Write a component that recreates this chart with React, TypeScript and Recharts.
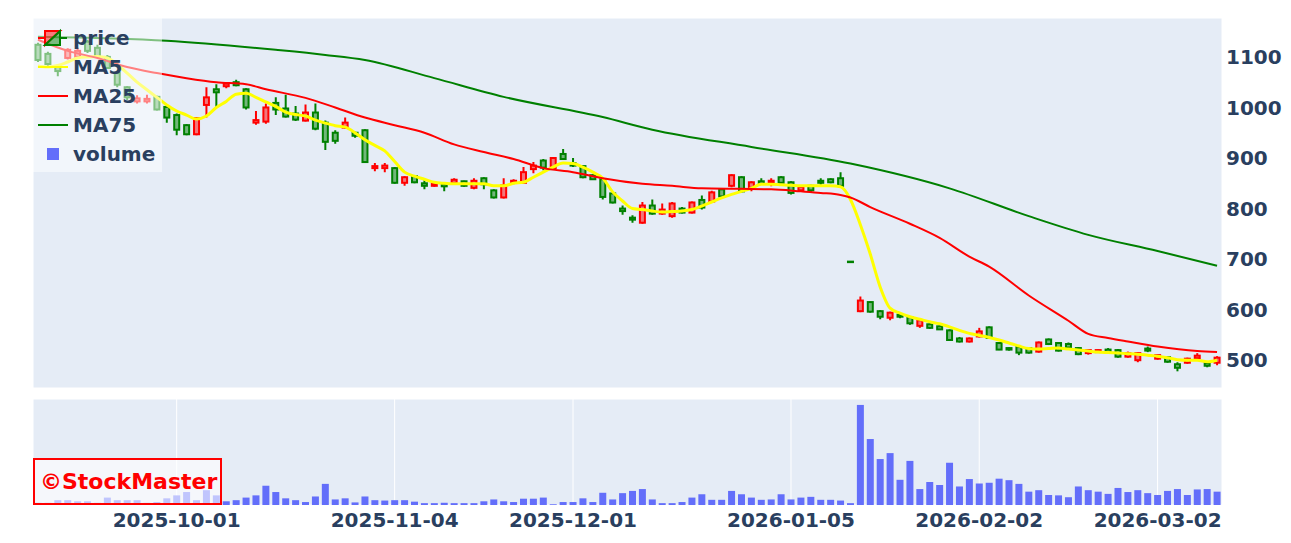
import React from 'react'
import { ComposedChart, Bar, Line, XAxis, YAxis, CartesianGrid } from 'recharts'

// Japanese trading days shown on the chart
const dates = [
  '2025-09-09', '2025-09-10', '2025-09-11', '2025-09-12', '2025-09-16', '2025-09-17', '2025-09-18', '2025-09-19', '2025-09-22', '2025-09-24',
  '2025-09-25', '2025-09-26', '2025-09-29', '2025-09-30',
  '2025-10-01', '2025-10-02', '2025-10-03', '2025-10-06', '2025-10-07', '2025-10-08', '2025-10-09', '2025-10-10', '2025-10-14', '2025-10-15',
  '2025-10-16', '2025-10-17', '2025-10-20', '2025-10-21', '2025-10-22', '2025-10-23', '2025-10-24', '2025-10-27', '2025-10-28', '2025-10-29',
  '2025-10-30', '2025-10-31',
  '2025-11-04', '2025-11-05', '2025-11-06', '2025-11-07', '2025-11-10', '2025-11-11', '2025-11-12', '2025-11-13', '2025-11-14', '2025-11-17',
  '2025-11-18', '2025-11-19', '2025-11-20', '2025-11-21', '2025-11-25', '2025-11-26', '2025-11-27', '2025-11-28',
  '2025-12-01', '2025-12-02', '2025-12-03', '2025-12-04', '2025-12-05', '2025-12-08', '2025-12-09', '2025-12-10', '2025-12-11', '2025-12-12',
  '2025-12-15', '2025-12-16', '2025-12-17', '2025-12-18', '2025-12-19', '2025-12-22', '2025-12-23', '2025-12-24', '2025-12-25', '2025-12-26',
  '2025-12-29', '2025-12-30',
  '2026-01-05', '2026-01-06', '2026-01-07', '2026-01-08', '2026-01-09', '2026-01-13', '2026-01-14', '2026-01-15', '2026-01-16', '2026-01-19',
  '2026-01-20', '2026-01-21', '2026-01-22', '2026-01-23', '2026-01-26', '2026-01-27', '2026-01-28', '2026-01-29', '2026-01-30',
  '2026-02-02', '2026-02-03', '2026-02-04', '2026-02-05', '2026-02-06', '2026-02-09', '2026-02-10', '2026-02-12', '2026-02-13', '2026-02-16',
  '2026-02-17', '2026-02-18', '2026-02-19', '2026-02-20', '2026-02-24', '2026-02-25', '2026-02-26', '2026-02-27',
  '2026-03-02', '2026-03-03', '2026-03-04', '2026-03-05', '2026-03-06', '2026-03-09', '2026-03-10',
]

const tickDates = ['2025-10-01', '2025-11-04', '2025-12-01', '2026-01-05', '2026-02-02', '2026-03-02']
const priceTicks = [500, 600, 700, 800, 900, 1000, 1100]

const open = [
  1124, 1106, 1082, 1098, 1100, 1130, 1118, 1100, 1068, 1040,
  1012, 1012, 1021, 1001, 985, 965, 947, 1005, 1036, 1042,
  1050, 1036, 970, 972, 1009, 998, 988, 974, 990, 970,
  950, 960, 950, 955, 880, 880, 880, 851, 864, 850,
  845, 849, 851, 854, 841, 860, 836, 822, 851, 851,
  878, 895, 880, 908, 890, 884, 866, 858, 830, 800,
  782, 772, 806, 790, 785, 800, 792, 817, 814, 838,
  845, 862, 841, 854, 851, 862, 852, 836, 845, 855,
  858, 860, 695, 597, 615, 597, 584, 590, 585, 568,
  571, 567, 559, 543, 537, 547, 565, 534, 524, 526,
  524, 517, 541, 534, 532, 524, 514, 516, 521, 520,
  507, 500, 523, 503, 506, 492, 495, 504, 494, 495,
]
const high = [
  1128, 1110, 1085, 1117, 1118, 1134, 1124, 1104, 1070, 1042,
  1024, 1025, 1023, 1003, 988, 967, 981, 1040, 1046, 1050,
  1055, 1038, 993, 1008, 1020, 1025, 1003, 1006, 1008, 974,
  955, 980, 952, 957, 890, 890, 882, 864, 866, 856,
  852, 850, 860, 855, 860, 862, 838, 860, 858, 882,
  892, 898, 902, 918, 900, 886, 868, 860, 832, 806,
  787, 813, 818, 810, 813, 803, 814, 826, 835, 840,
  868, 864, 854, 860, 860, 864, 854, 845, 847, 860,
  860, 872, 696, 626, 616, 599, 596, 594, 587, 581,
  573, 569, 561, 546, 545, 564, 567, 535, 525, 528,
  526, 537, 543, 536, 535, 526, 522, 521, 524, 522,
  517, 516, 527, 511, 507, 496, 505, 514, 496, 508,
]
const low = [
  1090, 1082, 1062, 1095, 1096, 1108, 1098, 1076, 1040, 1015,
  1008, 1008, 994, 970, 945, 945, 945, 980, 1000, 1038,
  1042, 996, 966, 968, 985, 980, 973, 972, 955, 916,
  928, 958, 940, 890, 874, 872, 849, 845, 850, 838,
  843, 834, 850, 843, 838, 838, 820, 820, 848, 850,
  870, 876, 878, 896, 882, 860, 857, 818, 810, 788,
  772, 770, 788, 788, 782, 790, 790, 798, 812, 820,
  842, 832, 834, 847, 844, 850, 828, 834, 832, 847,
  850, 843, 694, 595, 594, 581, 579, 583, 570, 564,
  562, 560, 538, 535, 535, 545, 542, 520, 519, 510,
  513, 515, 530, 517, 523, 510, 511, 515, 513, 505,
  505, 496, 516, 501, 495, 478, 493, 503, 486, 490,
]
const close = [
  1094, 1086, 1072, 1114, 1112, 1112, 1100, 1078, 1045, 1020,
  1018, 1017, 996, 980, 956, 947, 979, 1020, 1030, 1047,
  1044, 1000, 975, 1000, 996, 982, 976, 990, 958, 932,
  934, 970, 944, 892, 884, 885, 851, 862, 852, 845,
  849, 844, 857, 845, 855, 848, 822, 846, 855, 872,
  885, 881, 900, 898, 885, 862, 858, 823, 812, 795,
  778, 806, 790, 798, 810, 792, 812, 802, 832, 824,
  866, 834, 852, 849, 855, 851, 831, 843, 836, 851,
  852, 845, 695, 618, 596, 586, 594, 586, 573, 579,
  564, 561, 540, 537, 543, 557, 544, 521, 521, 515,
  515, 535, 532, 519, 525, 512, 520, 520, 515, 507,
  514, 514, 519, 510, 497, 485, 503, 509, 489, 505,
]

const ma5 = [
  1082, 1080, 1083, 1090, 1098, 1100, 1101, 1098, 1085, 1068,
  1050, 1035, 1020, 1005, 993, 985, 977, 983, 1000, 1012,
  1026, 1028, 1020, 1011, 1002, 991, 986, 983, 975, 969,
  964, 961, 950, 936, 925, 914, 893, 872, 864, 858,
  852, 850, 849, 849, 849, 849, 845, 845, 850, 852,
  862, 872, 882, 890, 889, 882, 872, 860, 833, 815,
  800, 798, 795, 793, 794, 795, 798, 805, 813, 821,
  828, 834, 840, 848, 848, 847, 846, 845, 845, 845,
  845, 843, 818, 768, 710, 645, 603, 593, 586, 581,
  576, 572, 566, 559, 553, 549, 545, 540, 534, 528,
  523, 522, 523, 524, 522, 520, 518, 516, 515, 514,
  513, 512, 510, 508, 505, 501, 500, 500, 497, 500,
]

// [day index, value]
const ma25Points: [number, number][] = [
  [0, 1134], [3, 1112], [6, 1098], [9, 1080], [12, 1068], [15, 1058], [18, 1050], [21, 1046], [23, 1036],
  [27, 1019], [30, 1000], [33, 980], [36, 965], [39, 950], [42, 927], [45, 912], [48, 898], [51, 880],
  [54, 872], [57, 860], [61, 849], [64, 845], [67, 840], [71, 839], [74, 838], [77, 834], [79, 831],
  [81, 827], [82, 822], [84, 803], [88, 770], [91, 742], [94, 705], [96, 685], [100, 628], [104, 578],
  [106, 552], [108, 544], [110, 537], [113, 527], [117, 518], [119, 516],
]
const ma75Points: [number, number][] = [
  [0, 1140], [13, 1132], [24, 1114], [29, 1104], [33, 1094], [40, 1058], [47, 1021], [57, 981], [62, 956],
  [72, 922], [82, 889], [92, 840], [100, 785], [106, 748], [113, 716], [119, 687],
]

// volume in thousands of shares
const volume = [
  60, 60, 130, 130, 100, 100, 60, 200, 130, 130,
  130, 60, 80, 180, 260, 350, 130, 400, 260, 100,
  130, 200, 260, 520, 350, 180, 130, 80, 230, 570,
  150, 180, 70, 230, 130, 120, 130, 130, 90, 50,
  50, 60, 50, 50, 50, 100, 150, 100, 80, 170,
  170, 200, 20, 80, 80, 180, 80, 330, 150, 320,
  380, 430, 150, 50, 50, 80, 200, 290, 140, 140,
  380, 290, 200, 140, 150, 290, 150, 200, 220, 140,
  140, 120, 50, 2700, 1780, 1240, 1400, 680, 1190, 430,
  620, 540, 1140, 500, 700, 580, 600, 710, 670, 570,
  360, 400, 270, 260, 210, 500, 400, 360, 300, 460,
  350, 400, 320, 270, 380, 430, 270, 420, 430, 360,
]

const UP = '#FF0000'
const DOWN = '#008000'
const VOL = '#636EFA'
const TEXT = '#2a3f5f'
const FONT = '"DejaVu Sans", Verdana, sans-serif'

const ma25Map = new Map(ma25Points)
const ma75Map = new Map(ma75Points)

const data = dates.map((date, i) => ({
  date,
  open: open[i],
  high: high[i],
  low: low[i],
  close: close[i],
  range: [low[i], high[i]],
  ma5: ma5[i],
  ma25: ma25Map.get(i) ?? null,
  ma75: ma75Map.get(i) ?? null,
  volume: volume[i],
}))

const Candle = (props: any) => {
  const { x, y, width, height, payload } = props
  if (!payload) return null
  const { open: o, close: c, high: h, low: l } = payload
  const color = c > o ? UP : DOWN
  const top = Math.min(y, y + height)
  const span = Math.abs(height)
  const k = h - l > 0 ? span / (h - l) : 0
  const py = (v: number) => top + (h - v) * k
  const cx = x + width / 2
  const bTop = py(Math.max(o, c))
  const bBot = py(Math.min(o, c))
  const bw = 5
  return (
    <g>
      <line x1={cx} x2={cx} y1={top} y2={bTop} stroke={color} strokeWidth={2} />
      <line x1={cx} x2={cx} y1={bBot} y2={top + span} stroke={color} strokeWidth={2} />
      <rect
        x={cx - bw / 2}
        y={bTop}
        width={bw}
        height={Math.max(bBot - bTop, 0.5)}
        fill={color}
        fillOpacity={0.5}
        stroke={color}
        strokeWidth={2}
      />
    </g>
  )
}

const tickStyle = { fontSize: 20, fontWeight: 'bold', fill: TEXT, fontFamily: FONT }

function LegendBox() {
  const rowY = [38, 67, 96, 125, 154]
  const lines = [
    { label: 'MA5', color: '#FFFF00' },
    { label: 'MA25', color: UP },
    { label: 'MA75', color: DOWN },
  ]
  return (
    <div
      style={{
        position: 'absolute',
        left: 33,
        top: 18,
        width: 129,
        height: 154,
        background: 'rgba(255,255,255,0.5)',
      }}
    >
      <svg width={129} height={154} style={{ position: 'absolute', left: 0, top: 0 }}>
        <g transform="translate(-33,-18)">
          {/* candlestick icon */}
          <path d="M38,38H45M45,45V31H60Z" fill={UP} fillOpacity={0.5} stroke={UP} strokeWidth={2} />
          <path d="M67,38H60M60,31V45H45Z" fill={DOWN} fillOpacity={0.5} stroke={DOWN} strokeWidth={2} />
          {lines.map((l, i) => (
            <line key={l.label} x1={38} x2={68} y1={rowY[i + 1]} y2={rowY[i + 1]} stroke={l.color} strokeWidth={2} />
          ))}
          <rect x={47} y={148} width={12} height={12} fill={VOL} />
          {['price', 'MA5', 'MA25', 'MA75', 'volume'].map((t, i) => (
            <text
              key={t}
              x={73}
              y={rowY[i]}
              dy="0.36em"
              fontSize={20}
              fontWeight="bold"
              fill={TEXT}
              fontFamily={FONT}
            >
              {t}
            </text>
          ))}
        </g>
      </svg>
    </div>
  )
}

export default function App() {
  return (
    <div
      style={{
        position: 'absolute',
        left: 0,
        top: 0,
        width: 1291,
        height: 543,
        background: '#fff',
        fontFamily: FONT,
        overflow: 'hidden',
      }}
    >
      <div style={{ position: 'absolute', left: 0, top: 0 }}>
        <ComposedChart width={1291} height={388} data={data} margin={{ top: 18, right: 0, bottom: 0, left: 33 }}>
          <CartesianGrid stroke="#fff" strokeWidth={1} fill="#E5ECF6" />
          <XAxis
            dataKey="date"
            ticks={tickDates}
            interval={0}
            height={0}
            tick={false}
            axisLine={false}
            tickLine={false}
          />
          <YAxis
            yAxisId="p"
            orientation="right"
            width={69}
            type="number"
            domain={[445, 1177]}
            ticks={priceTicks}
            allowDataOverflow
            axisLine={false}
            tickLine={false}
            tickSize={0}
            tickMargin={4}
            tick={tickStyle}
          />
          <Bar yAxisId="p" dataKey="range" shape={<Candle />} isAnimationActive={false} />
          <Line yAxisId="p" type="monotone" dataKey="ma5" stroke="#FFFF00" strokeWidth={3} dot={false} isAnimationActive={false} />
          <Line yAxisId="p" type="monotone" dataKey="ma25" stroke={UP} strokeWidth={2} dot={false} connectNulls isAnimationActive={false} />
          <Line yAxisId="p" type="monotone" dataKey="ma75" stroke={DOWN} strokeWidth={2} dot={false} connectNulls isAnimationActive={false} />
        </ComposedChart>
      </div>
      <div style={{ position: 'absolute', left: 0, top: 388 }}>
        <ComposedChart
          width={1291}
          height={155}
          data={data}
          margin={{ top: 11, right: 0, bottom: 0, left: 33 }}
          barCategoryGap="15%"
        >
          <CartesianGrid stroke="#fff" strokeWidth={1} fill="#E5ECF6" />
          <XAxis
            dataKey="date"
            ticks={tickDates}
            interval={0}
            height={38}
            axisLine={false}
            tickLine={false}
            tick={tickStyle}
          />
          <YAxis
            orientation="right"
            width={69}
            type="number"
            domain={[0, 2860]}
            ticks={[0, 1000, 2000]}
            tick={false}
            axisLine={false}
            tickLine={false}
          />
          <Bar dataKey="volume" fill={VOL} isAnimationActive={false} />
        </ComposedChart>
      </div>
      <LegendBox />
      <div
        style={{
          position: 'absolute',
          left: 33,
          top: 458,
          width: 189,
          height: 47,
          boxSizing: 'border-box',
          border: '2px solid #FF0000',
          background: 'rgba(255,255,255,0.6)',
          color: '#FF0000',
          fontWeight: 'bold',
          fontSize: 22,
          lineHeight: '43px',
          paddingLeft: 5,
          fontFamily: FONT,
          whiteSpace: 'nowrap',
        }}
      >
        ©StockMaster
      </div>
    </div>
  )
}
